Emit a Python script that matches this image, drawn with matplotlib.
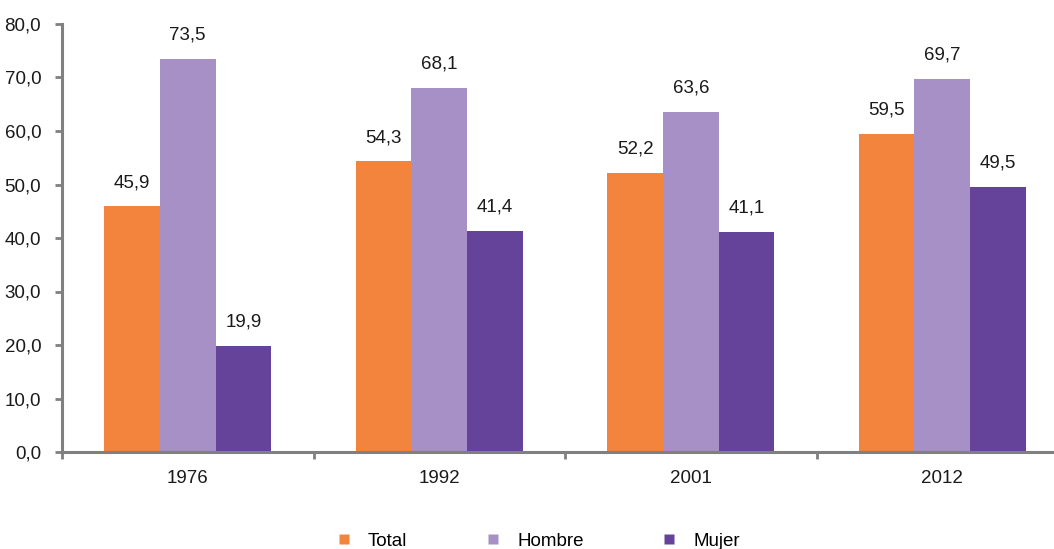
import matplotlib
matplotlib.use("Agg")
import matplotlib.pyplot as plt
from matplotlib.lines import Line2D
import numpy as np

plt.rcParams['font.family'] = ['Liberation Sans', 'DejaVu Sans']

categories = ['1976', '1992', '2001', '2012']
series_names = ['Total', 'Hombre', 'Mujer']
total = [45.9, 54.3, 52.2, 59.5]
hombre = [73.5, 68.1, 63.6, 69.7]
mujer = [19.9, 41.4, 41.1, 49.5]
yticks = [0, 10, 20, 30, 40, 50, 60, 70, 80]

colors = ['#F3843D', '#A690C5', '#65439A']
grey = '#808080'
txt = '#1a1a1a'
fs = 13.5

W, H = 1054, 549
fig = plt.figure(figsize=(W / 100, H / 100), dpi=100)
left, bottom, top = 62, 97, 549 - 24
cat_w = 251.5
ax_w = cat_w * len(categories)
ax = fig.add_axes([left / W, bottom / H, ax_w / W, (top - bottom) / H])

x = np.arange(len(categories))
bw = 0.2207
for i, (vals, c) in enumerate(zip([total, hombre, mujer], colors)):
    xs = x + (i - 1) * bw
    ax.bar(xs, vals, width=bw, color=c, edgecolor='none', zorder=2)
    for xi, v in zip(xs, vals):
        ax.annotate(f"{v:.1f}".replace('.', ','), (xi, v), xytext=(0, 11),
                    textcoords='offset points', ha='center', va='bottom',
                    fontsize=fs, color=txt)

ax.set_xlim(-0.5, len(categories) - 0.5)
ax.set_ylim(0, 80)
ax.set_yticks(yticks)
ax.set_yticklabels([f"{t:.1f}".replace('.', ',') for t in yticks], fontsize=fs, color=txt)
ax.set_xticks(np.arange(len(categories) + 1) - 0.5)
ax.set_xticklabels([])
ax.set_xticks(x, minor=True)
ax.set_xticklabels(categories, minor=True, fontsize=fs, color=txt)
ax.tick_params(axis='x', which='minor', length=0, pad=13)
ax.tick_params(axis='x', which='major', length=5, width=2, color=grey, direction='out')
ax.tick_params(axis='y', length=5, width=2, color=grey, direction='out', pad=10)

for s in ['top', 'right']:
    ax.spines[s].set_visible(False)
for s in ['left', 'bottom']:
    ax.spines[s].set_color(grey)
    ax.spines[s].set_linewidth(2.2)

handles = [Line2D([], [], marker='s', linestyle='none', markersize=7.5,
                  markerfacecolor=c, markeredgecolor='none') for c in colors]
fig.legend(handles, series_names, loc='center', bbox_to_anchor=(538 / W, 8 / H),
           ncol=3, frameon=False, fontsize=fs, handlelength=0.8,
           handletextpad=0.9, columnspacing=4.15)

fig.savefig('out.png', dpi=100)
